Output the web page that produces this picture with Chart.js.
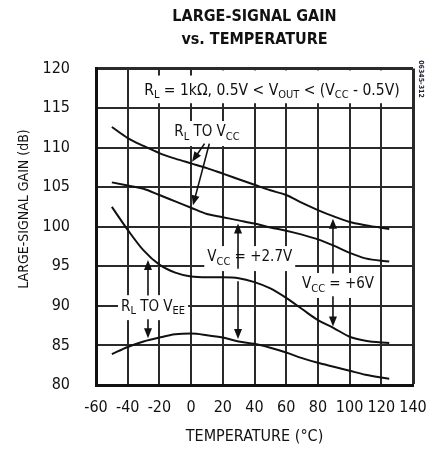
<!DOCTYPE html>
<html>
<head>
<meta charset="utf-8">
<script src="https://cdn.jsdelivr.net/npm/chart.js@4.4.0/dist/chart.umd.min.js"></script>
<style>
  html, body { margin: 0; padding: 0; background: #fff; }
  #wrap { width: 440px; height: 450px; }
</style>
</head>
<body>
<div id="wrap"><canvas id="gainChart" width="440" height="450"></canvas></div>
<script>
// temperatures (°C) and large-signal gain (dB)
const temperatures = [-50, -40, -30, -20, -10, 0, 10, 20, 30, 40, 50, 60, 70, 80, 90, 100, 110, 125];
const gain6vToVcc  = [112.6, 111.2, 110.2, 109.3, 108.6, 108.0, 107.4, 106.7, 106.0, 105.3, 104.6, 104.0, 103.0, 102.1, 101.3, 100.6, 100.2, 99.7];
const gain27vToVcc = [105.6, 105.2, 104.8, 104.0, 103.2, 102.4, 101.6, 101.2, 100.8, 100.4, 99.9, 99.5, 99.0, 98.4, 97.6, 96.7, 96.0, 95.6];
const gain6vToVee  = [102.5, 99.6, 97.0, 95.2, 94.2, 93.7, 93.6, 93.6, 93.5, 93.0, 92.2, 91.0, 89.6, 88.2, 87.2, 86.1, 85.6, 85.3];
const gain27vToVee = [83.9, 84.8, 85.5, 86.0, 86.4, 86.5, 86.3, 86.0, 85.5, 85.2, 84.7, 84.1, 83.4, 82.8, 82.3, 81.8, 81.3, 80.8];

const xTicks = [-60, -40, -20, 0, 20, 40, 60, 80, 100, 120, 140];
const yTicks = [80, 85, 90, 95, 100, 105, 110, 115, 120];

const FONT = '"Liberation Sans Narrow", "DejaVu Sans Condensed", "Arial Narrow", sans-serif';
const INK = "#111";

function toPoints(values) {
    return values.map((v, i) => ({ x: temperatures[i], y: v }));
}

// draws text with subscripts, centred on (cx, cy); returns its width
function richText(ctx, parts, cx, cy, size, bg) {
    const sub = Math.round(size * 0.72);
    let w = 0;
    parts.forEach((p) => {
        ctx.font = (p.sub ? sub : size) + "px " + FONT;
        p.w = ctx.measureText(p.t).width;
        w += p.w;
    });
    if (bg) {
        ctx.fillStyle = "#fff";
        ctx.fillRect(cx - w / 2 - bg[0], cy - size / 2 - bg[1], w + bg[0] * 2, size + bg[1] * 2 + 2);
    }
    let x = cx - w / 2;
    ctx.fillStyle = INK;
    ctx.textBaseline = "middle";
    ctx.textAlign = "left";
    parts.forEach((p) => {
        ctx.font = (p.sub ? sub : size) + "px " + FONT;
        ctx.fillText(p.t, x, p.sub ? cy + size * 0.28 : cy);
        x += p.w;
    });
    return w;
}

function arrow(ctx, x1, y1, x2, y2) {
    const a = Math.atan2(y2 - y1, x2 - x1);
    const len = 10, half = 4;
    ctx.strokeStyle = INK;
    ctx.fillStyle = INK;
    ctx.lineWidth = 1.6;
    ctx.beginPath();
    ctx.moveTo(x1, y1);
    ctx.lineTo(x2 - Math.cos(a) * len * 0.8, y2 - Math.sin(a) * len * 0.8);
    ctx.stroke();
    ctx.beginPath();
    ctx.moveTo(x2, y2);
    ctx.lineTo(x2 - Math.cos(a) * len + Math.sin(a) * half, y2 - Math.sin(a) * len - Math.cos(a) * half);
    ctx.lineTo(x2 - Math.cos(a) * len - Math.sin(a) * half, y2 - Math.sin(a) * len + Math.cos(a) * half);
    ctx.closePath();
    ctx.fill();
}

const notesPlugin = {
    id: "notes",
    afterDatasetsDraw(chart) {
        const { ctx, scales } = chart;
        const px = (v) => scales.x.getPixelForValue(v);
        const py = (v) => scales.y.getPixelForValue(v);
        ctx.save();

        // test condition box along the top
        ctx.fillStyle = "#fff";
        ctx.fillRect(px(-33), py(119.1), px(137) - px(-33), py(115.6) - py(119.1));
        ctx.fillRect(px(15), py(120) + 2, px(137) - px(15), py(119.1) - py(120));
        richText(ctx, [
            { t: "R" }, { t: "L", sub: true }, { t: " = 1kΩ, 0.5V < V" }, { t: "OUT", sub: true },
            { t: " < (V" }, { t: "CC", sub: true }, { t: " - 0.5V)" }
        ], px(51), py(117.2), 15.5);

        // R_L to V_CC
        richText(ctx, [{ t: "R" }, { t: "L", sub: true }, { t: " TO V" }, { t: "CC", sub: true }],
            px(10), py(111.9), 15, [3, 4]);
        arrow(ctx, px(8.5), py(110.5), px(0.6), py(108.2));
        arrow(ctx, px(11.5), py(110.5), px(1.2), py(102.7));

        // V_CC = +2.7V
        richText(ctx, [{ t: "V" }, { t: "CC", sub: true }, { t: " = +2.7V" }],
            px(37), py(96.1), 15, [3, 4]);
        arrow(ctx, px(29.6), py(94.7), px(29.6), py(100.4));
        arrow(ctx, px(29.6), py(93.1), px(29.6), py(85.8));

        // V_CC = +6V
        richText(ctx, [{ t: "V" }, { t: "CC", sub: true }, { t: " = +6V" }],
            px(92.7), py(92.7), 15, [3, 4]);
        arrow(ctx, px(89.5), py(94.1), px(89.5), py(101.0));
        arrow(ctx, px(89.5), py(91.2), px(89.5), py(87.4));

        // R_L to V_EE
        richText(ctx, [{ t: "R" }, { t: "L", sub: true }, { t: " TO V" }, { t: "EE", sub: true }],
            px(-24), py(89.9), 15, [3, 4]);
        arrow(ctx, px(-27.2), py(91.3), px(-27.2), py(95.8));
        arrow(ctx, px(-27.2), py(88.3), px(-27.2), py(85.9));

        // rotated y-axis title, sitting a little above centre as in the original
        ctx.save();
        ctx.translate(24, 209);
        ctx.rotate(-Math.PI / 2);
        ctx.font = "14px " + FONT;
        ctx.fillStyle = INK;
        ctx.textAlign = "center";
        ctx.textBaseline = "middle";
        ctx.fillText("LARGE-SIGNAL GAIN (dB)", 0, 0);
        ctx.restore();

        // figure number at the right edge
        ctx.save();
        ctx.translate(421, 79);
        ctx.rotate(Math.PI / 2);
        ctx.font = "bold 7px " + FONT;
        ctx.fillStyle = "#223";
        ctx.textAlign = "center";
        ctx.textBaseline = "middle";
        ctx.fillText("06345-312", 0, 0);
        ctx.restore();

        ctx.restore();
    },
};

function makeSet(label, values) {
    return {
        label: label,
        data: toPoints(values),
        borderColor: INK,
        borderWidth: 2,
        pointRadius: 0,
        fill: false,
        cubicInterpolationMode: "monotone",
    };
}

new Chart(document.getElementById("gainChart"), {
    type: "line",
    data: {
        datasets: [
            makeSet("VCC = +6V, RL to VCC", gain6vToVcc),
            makeSet("VCC = +2.7V, RL to VCC", gain27vToVcc),
            makeSet("VCC = +6V, RL to VEE", gain6vToVee),
            makeSet("VCC = +2.7V, RL to VEE", gain27vToVee),
        ],
    },
    options: {
        responsive: false,
        devicePixelRatio: 1,
        animation: false,
        layout: { padding: { top: 0, left: 0, right: 27, bottom: 0 } },
        plugins: {
            legend: { display: false },
            tooltip: { enabled: false },
            title: {
                display: true,
                fullSize: false,
                text: ["LARGE-SIGNAL GAIN", "vs. TEMPERATURE"],
                color: INK,
                font: { family: FONT, size: 16, weight: "bold", lineHeight: 1.45 },
                padding: { top: 5, bottom: 17 },
            },
        },
        scales: {
            x: {
                type: "linear",
                min: xTicks[0],
                max: xTicks[xTicks.length - 1],
                afterBuildTicks: (scale) => { scale.ticks = xTicks.map((v) => ({ value: v })); },
                afterFit: (scale) => { scale.height = 65; },
                grid: {
                    color: "#2a2a2a",
                    lineWidth: (c) => (c.tick && c.tick.value === 140 ? 3 : 2),
                    drawTicks: false,
                },
                border: { color: INK, width: 3 },
                ticks: { color: INK, padding: 13, maxRotation: 0, font: { family: FONT, size: 16 } },
                title: {
                    display: true,
                    text: "TEMPERATURE (°C)",
                    color: INK,
                    font: { family: FONT, size: 16 },
                    padding: { top: 0, bottom: 4 },
                },
            },
            y: {
                min: yTicks[0],
                max: yTicks[yTicks.length - 1],
                afterBuildTicks: (scale) => { scale.ticks = yTicks.map((v) => ({ value: v })); },
                afterFit: (scale) => { scale.width = 96; },
                grid: {
                    color: "#2a2a2a",
                    lineWidth: (c) => (c.tick && c.tick.value === 120 ? 3 : 2),
                    drawTicks: false,
                },
                border: { color: INK, width: 3 },
                ticks: { color: INK, padding: 26, font: { family: FONT, size: 16 } },
            },
        },
    },
    plugins: [notesPlugin],
});
</script>
</body>
</html>
